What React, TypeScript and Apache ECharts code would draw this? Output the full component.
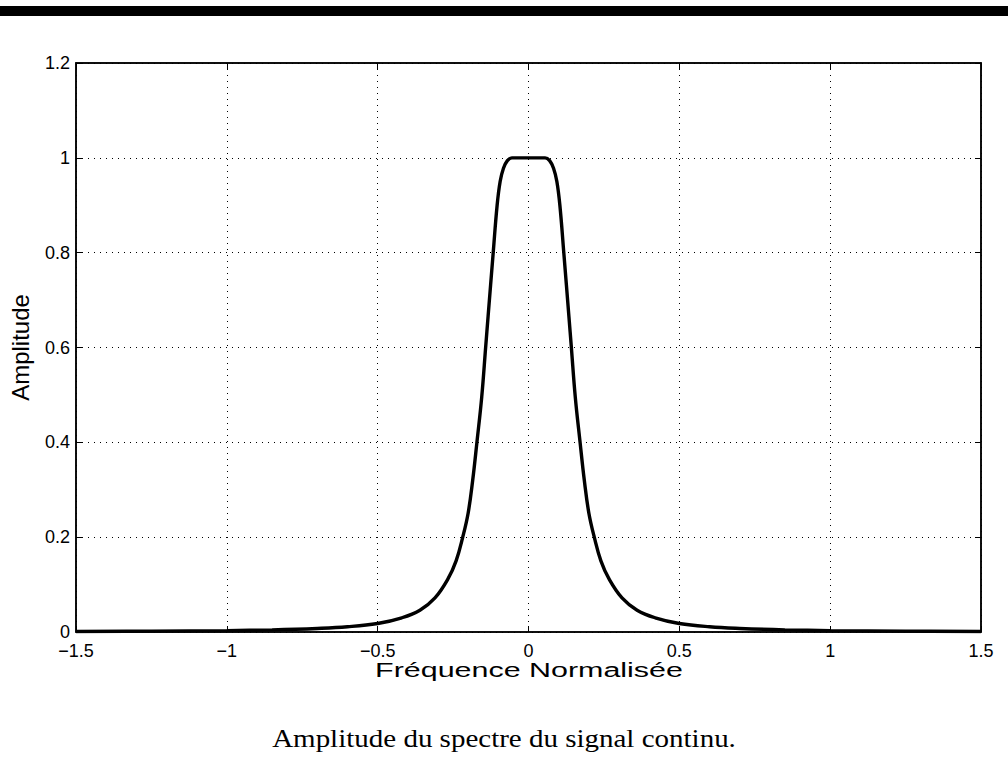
import React, { useEffect, useRef } from "react";
import * as echarts from "echarts";

// Normalised frequency (x) and amplitude (y)
const freq = [
  -1.5, -1.25, -1.0, -0.85, -0.7, -0.6, -0.5, -0.42, -0.36, -0.31, -0.267, -0.24,
  -0.218, -0.2, -0.185, -0.171, -0.155, -0.142, -0.134, -0.117, -0.104, -0.094,
  -0.083, -0.07, -0.055, -0.03, 0, 0.03, 0.055, 0.07, 0.083, 0.094, 0.104, 0.117,
  0.134, 0.142, 0.155, 0.171, 0.185, 0.2, 0.218, 0.24, 0.267, 0.31, 0.36, 0.42, 0.5,
  0.6, 0.7, 0.85, 1.0, 1.25, 1.5,
];
const amplitude = [
  0.001, 0.0018, 0.003, 0.0045, 0.0075, 0.011, 0.018, 0.03, 0.046, 0.072, 0.112, 0.15,
  0.2, 0.251, 0.32, 0.4, 0.496, 0.601, 0.665, 0.8, 0.9, 0.95,
  0.978, 0.994, 1.0, 1.0, 1.0, 1.0, 1.0, 0.994, 0.978, 0.95, 0.9, 0.8,
  0.665, 0.601, 0.496, 0.4, 0.32, 0.251, 0.2, 0.15, 0.112, 0.072, 0.046, 0.03, 0.018,
  0.011, 0.0075, 0.0045, 0.003, 0.0018, 0.001,
];

const xTicks = [-1.5, -1, -0.5, 0, 0.5, 1, 1.5];
const yTicks = [0, 0.2, 0.4, 0.6, 0.8, 1, 1.2];

const xTitle = "Fréquence Normalisée";
const yTitle = "Amplitude";
const caption = "Amplitude du spectre du signal continu.";

const fmt = (v: number) => String(v).replace("-", "\u2212");

export default function App() {
  const ref = useRef<HTMLDivElement>(null);
  useEffect(() => {
    const chart = echarts.init(ref.current!, null, { renderer: "svg" });
    const font = "'Liberation Sans', Arial, sans-serif";
    const tickLine = { show: true, inside: true, length: 6, lineStyle: { color: "#000", width: 1 } };
    const grid = { type: [1, 5], color: "#000", width: 1 };
    chart.setOption({
      animation: false,
      backgroundColor: "#fff",
      grid: {
        left: 76, right: 27, top: 63, bottom: 147,
        show: true, borderColor: "#000", borderWidth: 1.5, backgroundColor: "transparent",
      },
      xAxis: [
        {
          type: "value", min: xTicks[0], max: xTicks[xTicks.length - 1], interval: 0.5,
          position: "bottom",
          axisLine: { show: true, onZero: false, lineStyle: { color: "#000", width: 1.5 } },
          axisTick: tickLine,
          splitLine: { show: true, lineStyle: grid },
          axisLabel: { formatter: fmt, color: "#000", fontSize: 18, fontFamily: font, margin: 10 },
        },
        {
          type: "value", min: xTicks[0], max: xTicks[xTicks.length - 1], interval: 0.5,
          position: "top",
          axisLine: { show: true, onZero: false, lineStyle: { color: "#000", width: 1.5 } },
          axisTick: tickLine, axisLabel: { show: false }, splitLine: { show: false },
        },
      ],
      yAxis: [
        {
          type: "value", min: yTicks[0], max: yTicks[yTicks.length - 1], interval: 0.2,
          position: "left",
          axisLine: { show: true, onZero: false, lineStyle: { color: "#000", width: 1.5 } },
          axisTick: tickLine,
          splitLine: { show: true, lineStyle: grid },
          axisLabel: { formatter: fmt, color: "#000", fontSize: 18, fontFamily: font, margin: 6 },
          name: yTitle, nameLocation: "middle", nameRotate: 90, nameGap: 44,
          nameTextStyle: { color: "#000", fontSize: 24, fontFamily: font },
        },
        {
          type: "value", min: yTicks[0], max: yTicks[yTicks.length - 1], interval: 0.2,
          position: "right",
          axisLine: { show: true, onZero: false, lineStyle: { color: "#000", width: 1.5 } },
          axisTick: tickLine, axisLabel: { show: false }, splitLine: { show: false },
        },
      ],
      series: [
        {
          type: "line",
          data: freq.map((f, i) => [f, amplitude[i]]),
          showSymbol: false,
          smooth: 0.4,
          lineStyle: { color: "#000", width: 3.4 },
          xAxisIndex: 0, yAxisIndex: 0,
        },
      ],
      graphic: [
        { type: "rect", left: 0, top: 6, shape: { width: 1008, height: 10 }, style: { fill: "#000" } },
        {
          type: "text", x: 529, y: 670, scaleX: 1.45,
          style: {
            text: xTitle, fill: "#000", font: `21px ${font}`,
            align: "center", verticalAlign: "middle",
          },
        },
        {
          type: "text", x: 504, y: 739, scaleX: 1.16,
          style: {
            text: caption, fill: "#000", font: "25px 'Liberation Serif', 'DejaVu Serif', serif",
            align: "center", verticalAlign: "middle",
          },
        },
      ],
    });
    return () => chart.dispose();
  }, []);
  return (
    <div
      ref={ref}
      style={{ position: "absolute", left: 0, top: 0, width: 1008, height: 779, background: "#fff" }}
    />
  );
}
